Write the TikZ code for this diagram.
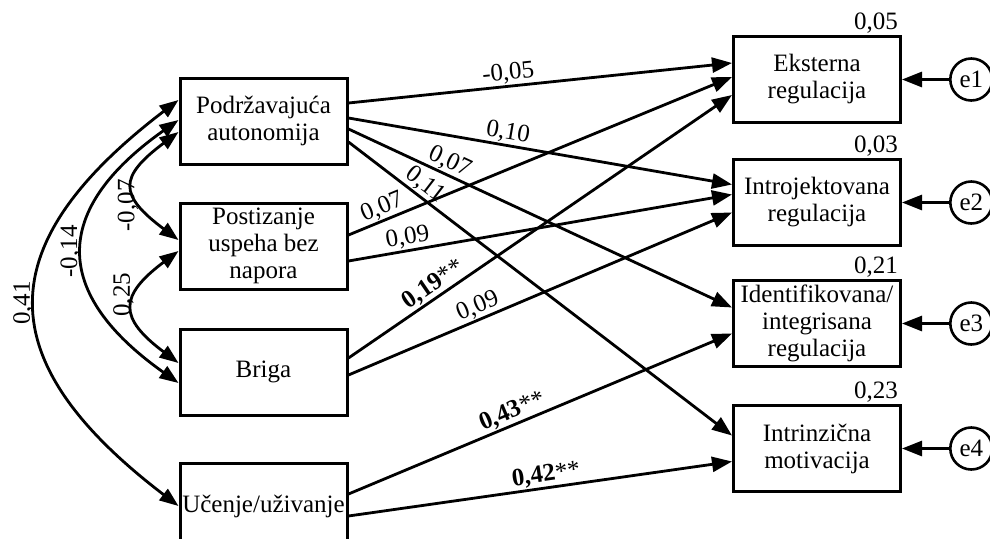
\documentclass[tikz,border=0pt]{standalone}
\usepackage{fontspec}
\setmainfont{Liberation Serif}
\usepackage{tikz}
\usetikzlibrary{positioning, arrows.meta}
\newcommand{\semfont}{\fontsize{25}{27}\selectfont}

\begin{document}
\begin{tikzpicture}[
			x=1pt, y=-1pt,
			box/.style={draw, line width=3pt, minimum width=167pt, minimum height=86pt,
				inner sep=0pt, align=center, font=\semfont},
			err/.style={draw, circle, line width=2.6pt, minimum size=42pt, inner sep=0pt, font=\semfont},
			eff/.style={-{Triangle[length=20pt, width=15pt]}, line width=2.8pt},
			cov/.style={{Triangle[length=19pt, width=14pt]}-{Triangle[length=19pt, width=14pt]}, line width=2.8pt},
			coef/.style={font=\semfont, sloped, above, inner sep=1pt},
			vcoef/.style={font=\semfont, rotate=90, anchor=south, inner sep=1pt},
			rsq/.style={font=\semfont, anchor=south east, inner sep=1pt, xshift=-3pt}
			]
			\useasboundingbox (0,0) rectangle (990,538);
			\clip (0,0) rectangle (990,538);
			
			% Predictors
			\node[box] (pod) at (263.5,121) {Podržavajuća\\autonomija};
			\node[box] (post) [below=36pt of pod] {Postizanje\\uspeha bez\\napora};
			\node[box] (briga) [below=37pt of post] {Briga};
			\node[box] (ucenje) [below=45pt of briga] {Učenje/uživanje};
			
			% Outcomes
			\node[box] (eks) at (817,79.5) {Eksterna\\regulacija};
			\node[box] (intro) [below=34pt of eks] {Introjektovana\\regulacija};
			\node[box] (ident) [below=32pt of intro] {Identifikovana/\\integrisana\\regulacija};
			\node[box] (intrin) [below=36pt of ident] {Intrinzična\\motivacija};
			
			% Errors and R2
			\node[err] (e1) [right=47pt of eks] {e1};
			\node[err] (e2) [right=47pt of intro] {e2};
			\node[err] (e3) [right=47pt of ident] {e3};
			\node[err] (e4) [right=47pt of intrin] {e4};
			\node[rsq] (r1) at (eks.north east) {0,05};
			\node[rsq] (r2) at (intro.north east) {0,03};
			\node[rsq] (r3) at (ident.north east) {0,21};
			\node[rsq] (r4) at (intrin.north east) {0,23};
			\draw[eff] (e1) -- (eks);
			\draw[eff] (e2) -- (intro);
			\draw[eff] (e3) -- (ident);
			\draw[eff] (e4) -- (intrin);
			
			% Paths
			\draw[eff] ([yshift=18pt]pod.east) -- node[coef, pos=0.42] {-0,05} ([yshift=16.5pt]eks.west);
			\draw[eff] ([yshift=3pt]pod.east) -- node[coef, pos=0.41] {0,10} ([yshift=18pt]intro.west);
			\draw[eff] ([yshift=-8pt]pod.east) -- node[coef, pos=0.25] {0,07} ([yshift=16pt]ident.west);
			\draw[eff] ([yshift=-21pt]pod.east) -- node[coef, pos=0.18] {0,11} ([yshift=13pt]intrin.west);
			\draw[eff] ([yshift=11pt]post.east) -- node[coef, pos=0.1] {0,07} ([yshift=2.5pt]eks.west);
			\draw[eff] ([yshift=-15pt]post.east) -- node[coef, pos=0.16] {0,09} ([yshift=8pt]intro.west);
			\draw[eff] ([yshift=14pt]briga.east) -- node[coef, pos=0.24] {\textbf{0,19}**} ([yshift=-15.5pt]eks.west);
			\draw[eff] ([yshift=-3pt]briga.east) -- node[coef, pos=0.35] {0,09} ([yshift=-10pt]intro.west);
			\draw[eff] ([yshift=12pt]ucenje.east) -- node[coef, pos=0.44] {\textbf{0,43}**} ([yshift=-10pt]ident.west);
			\draw[eff] ([yshift=-10pt]ucenje.east) -- node[coef, pos=0.52] {\textbf{0,42}**} ([yshift=-13pt]intrin.west);
			
			% Covariances
			\draw[cov] (ucenje.west) .. controls +(-190,-145) and +(-190,145) .. ([yshift=21pt]pod.west) node[vcoef, pos=0.5] {0,41};
			\draw[cov] ([yshift=-11pt]briga.west) .. controls +(-127,-90) and +(-127,90) .. ([yshift=1pt]pod.west) node[vcoef, pos=0.5] {-0,14};
			\draw[cov] ([yshift=6pt]post.west) .. controls +(-60,-45) and +(-60,45) .. ([yshift=-11pt]pod.west) node[vcoef, pos=0.3] {-0,07};
			\draw[cov] ([yshift=9pt]briga.west) .. controls +(-60,-45) and +(-60,45) .. ([yshift=-5pt]post.west) node[vcoef, pos=0.62] {0,25};
			
		\end{tikzpicture}
\end{document}
